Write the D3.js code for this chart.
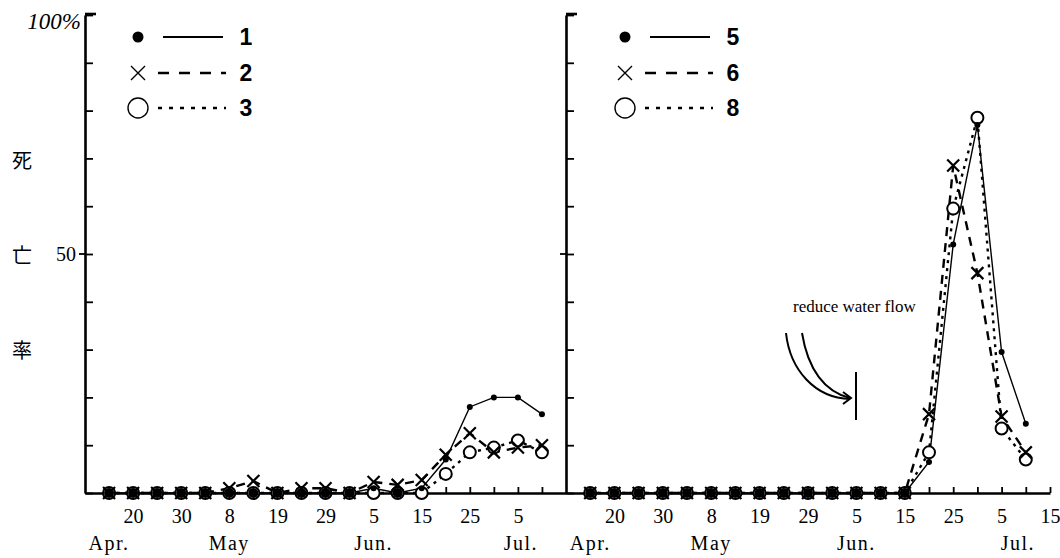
<!DOCTYPE html>
<html>
<head>
<meta charset="utf-8">
<script src="https://cdnjs.cloudflare.com/ajax/libs/d3/7.8.5/d3.min.js"></script>
<style>
body{margin:0;background:#fff}
text{fill:#000}
</style>
</head>
<body>
<script>
// sampling days (one mark per day), the axis runs one step before the first and to Jul 15
const sampleDays=["Apr 15","Apr 20","Apr 25","Apr 30","May 4","May 8","May 13","May 19","May 24","May 29",
                  "Jun 1","Jun 5","Jun 10","Jun 15","Jun 20","Jun 25","Jun 30","Jul 5","Jul 10"]
const axisDays=["Apr 10",...sampleDays,"Jul 15"]
const labelDays=["Apr 20","Apr 30","May 8","May 19","May 29","Jun 5","Jun 15","Jun 25","Jul 5","Jul 15"]
const months=["Apr.","May","Jun.","Jul."]
const monthDaysLeft=["Apr 15","May 8","Jun 5","Jul 5"]
const monthDaysRight=["Apr 15","May 8","Jun 5","Jul 10"]
const yTicks=[0,10,20,30,40,50,60,70,80,90,100]

// mortality (%) – left panel
const s1=[0,0,0,0,0,0,0,0,0,0,0,1,0,1,7,18,20,20,16.5]
const s2=[0,0,0,0,0,1,2.5,0,1,1,0,2.3,1.7,2.7,8,12.5,8.5,9.5,10]
const s3=[0,0,0,0,0,0,0,0,0,0,0,0,0,0,4,8.5,9.5,11,8.5]
// right panel
const s5=[0,0,0,0,0,0,0,0,0,0,0,0,0,0,6.5,52,77,29.5,14.5]
const s6=[0,0,0,0,0,0,0,0,0,0,0,0,0,0,16.5,68.5,46,16,8.5]
const s8=[0,0,0,0,0,0,0,0,0,0,0,0,0,0,8.5,59.5,78.5,13.5,7]

const svg=d3.select("body")
            .append("svg")
            .attr("width",1060)
            .attr("height",558)
            .style("background-color","#fff")

const yscale=d3.scaleLinear().domain([0,100]).range([493,15])

const serif="'Liberation Serif','DejaVu Serif',serif"
const sans="'Liberation Sans',Arial,sans-serif"

const xPath="M-6,-6L6,6M-6,6L6,-6"

function panel(x0,x1,series,monthDays,showLabels,legendX,names,monthShift){
    const xscale=d3.scalePoint().domain(axisDays).range([x0,x1]).padding(0)
    const g=svg.append("g")

    // x axis
    const lastDay=showLabels ? "Jul 5" : "Jul 15"
    const xAxis=g.append("g")
       .attr("transform","translate(0,"+yscale(0)+")")
       .call(d3.axisBottom(xscale)
               .tickValues(axisDays.slice(1,axisDays.indexOf(lastDay)+2).filter(d=>d!=="Jul 15"||!showLabels))
               .tickSizeInner(-6).tickSizeOuter(0).tickPadding(16)
               .tickFormat(d=>labelDays.includes(d)?d.split(" ")[1]:""))
    xAxis.select(".domain").attr("stroke-width",2.6)
    xAxis.selectAll(".tick line").attr("stroke-width",1.8)
    xAxis.selectAll("text").attr("font-family",serif).attr("font-size",20).attr("fill","#000")

    g.selectAll(".month")
     .data(months)
     .enter()
     .append("text")
     .attr("x",(d,i)=>xscale(monthDays[i])+(i===3?monthShift:0))
     .attr("y",550)
     .attr("text-anchor","middle")
     .attr("font-family",serif)
     .attr("font-size",20)
     .attr("letter-spacing",1.5)
     .text(d=>d)

    // y axis
    const yAxis=g.append("g")
       .attr("transform","translate("+x0+",0)")
       .call(d3.axisLeft(yscale).tickValues(yTicks)
               .tickSizeInner(-8).tickSizeOuter(0).tickPadding(9)
               .tickFormat(d=>showLabels&&d===50?"50":""))
    yAxis.select(".domain").attr("stroke-width",2.6)
    yAxis.selectAll(".tick line").attr("stroke-width",1.8)
    yAxis.selectAll("text").attr("font-family",serif).attr("font-size",20).attr("fill","#000")
    g.append("line").attr("x1",x0-6).attr("x2",x0).attr("y1",yscale(50)).attr("y2",yscale(50))
     .attr("stroke","#000").attr("stroke-width",1.8)
    g.append("line").attr("x1",x0).attr("x2",x0+11).attr("y1",yscale(100)-1).attr("y2",yscale(100)-1)
     .attr("stroke","#000").attr("stroke-width",2.6)

    // lines
    const styles=[{w:1.4,dash:null},{w:2.4,dash:"9,7"},{w:2.4,dash:"3,5"}]
    series.forEach((s,k)=>{
        const line=d3.line().x((d,i)=>xscale(sampleDays[i])).y(d=>yscale(d))
        g.append("path")
         .datum(s)
         .attr("d",line)
         .attr("fill","none")
         .attr("stroke","#000")
         .attr("stroke-width",styles[k].w)
         .attr("stroke-dasharray",styles[k].dash)
    })

    // markers
    g.selectAll(".circ")
     .data(series[2])
     .enter()
     .append("circle")
     .attr("cx",(d,i)=>xscale(sampleDays[i]))
     .attr("cy",d=>yscale(d))
     .attr("r",6)
     .attr("fill","#fff")
     .attr("stroke","#000")
     .attr("stroke-width",2)
    g.selectAll(".cross")
     .data(series[1])
     .enter()
     .append("path")
     .attr("d",xPath)
     .attr("transform",(d,i)=>"translate("+xscale(sampleDays[i])+","+yscale(d)+")")
     .attr("stroke","#000")
     .attr("stroke-width",2.2)
    g.selectAll(".dot")
     .data(series[0])
     .enter()
     .append("circle")
     .attr("cx",(d,i)=>xscale(sampleDays[i]))
     .attr("cy",d=>yscale(d))
     .attr("r",d=>d===0?5:3)
     .attr("fill","#000")

    // legend
    const lg=g.append("g")
    const rows=[37,73,108]
    lg.append("circle").attr("cx",legendX).attr("cy",rows[0]).attr("r",5.5).attr("fill","#000")
    lg.append("path").attr("d","M-7,-7L7,7M-7,7L7,-7")
      .attr("transform","translate("+legendX+","+rows[1]+")")
      .attr("stroke","#000").attr("stroke-width",1.4)
    lg.append("circle").attr("cx",legendX).attr("cy",rows[2]).attr("r",10)
      .attr("fill","none").attr("stroke","#000").attr("stroke-width",1.4)
    const lineStyles=[{w:1.8,dash:null},{w:2.6,dash:"11,10"},{w:2.4,dash:"4,7"}]
    rows.forEach((r,k)=>{
        lg.append("line").attr("x1",legendX+(k===0?25:20)).attr("x2",legendX+(k===0?85:88))
          .attr("y1",r).attr("y2",r)
          .attr("stroke","#000").attr("stroke-width",lineStyles[k].w)
          .attr("stroke-dasharray",lineStyles[k].dash)
        lg.append("text").attr("x",legendX+108).attr("y",r+8)
          .attr("font-family",sans).attr("font-weight","bold").attr("font-size",23)
          .attr("text-anchor","middle")
          .text(names[k])
    })
    return xscale
}

panel(85,566,[s1,s2,s3],monthDaysLeft,true,138,["1","2","3"],3)
panel(566,1050,[s5,s6,s8],monthDaysRight,false,625,["5","6","8"],-8)

// y labels
svg.append("text").attr("x",81).attr("y",29).attr("text-anchor","end")
   .attr("font-family",serif).attr("font-style","italic").attr("font-size",23)
   .text("100%")
const ylab=["死","亡","率"]
svg.selectAll(".ylab")
   .data(ylab)
   .enter()
   .append("text")
   .attr("x",22)
   .attr("y",(d,i)=>168+i*95)
   .attr("text-anchor","middle")
   .attr("font-family","'Noto Sans CJK JP','Noto Sans CJK SC',sans-serif")
   .attr("font-size",20)
   .text(d=>d)

// annotation
svg.append("text").attr("x",793).attr("y",312)
   .attr("font-family",serif).attr("font-size",17)
   .text("reduce water flow")
const arrows=svg.append("g").attr("fill","none").attr("stroke","#000").attr("stroke-width",2)
arrows.append("path").attr("d","M786,333 C790,370 815,398 850,399")
arrows.append("path").attr("d","M802,333 C808,370 825,392 850,398")
arrows.append("path").attr("d","M843,392 L851,398 L843,404")
arrows.append("line").attr("x1",856).attr("x2",856).attr("y1",372).attr("y2",420)
</script>
</body>
</html>
